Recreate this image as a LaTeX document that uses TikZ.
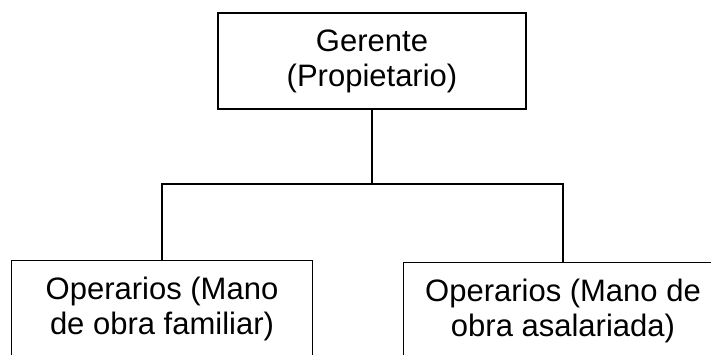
\documentclass[tikz,border=0pt]{standalone}
\usepackage{fontspec}
\setmainfont{Liberation Sans}
\usetikzlibrary{positioning}

\begin{document}
\begin{tikzpicture}[x=1pt,y=-1pt,line width=1.6pt,
	caja/.style={draw,inner sep=0pt,align=center,font=\fontsize{31}{35}\selectfont}]
	
	% Frame
	\useasboundingbox (0,0) rectangle (711,355);
	
	% Top box
	\node[caja,minimum width=308pt,minimum height=96pt] (gerente) at (372,61) {Gerente\\(Propietario)};
	
	% Bottom boxes
	\node[caja,minimum width=301pt,minimum height=97pt] (familiar) at (162,309) {Operarios (Mano\\de obra familiar)};
	\node[caja,minimum width=319pt,minimum height=97pt] (asalariada) at (563,311) {Operarios (Mano de\\obra asalariada)};
	
	% Connectors
	\coordinate (junta) at (372,184);
	\draw (gerente.south) -- (junta);
	\draw (familiar.north) |- (junta) -| (asalariada.north);
	
\end{tikzpicture}
\end{document}
